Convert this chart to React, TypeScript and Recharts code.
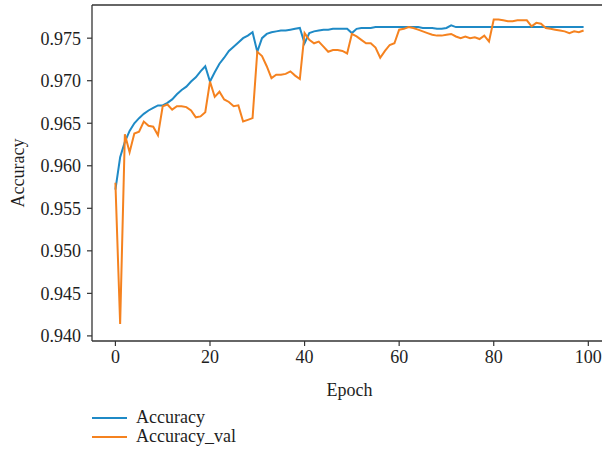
import React from 'react';
import { LineChart, Line, XAxis, YAxis, Label, ReferenceLine } from 'recharts';

// epochs 0..99
const epochs: number[] = Array.from({ length: 100 }, (_, i) => i);

const accuracy: number[] = [
  0.9572, 0.9610, 0.9628, 0.9641, 0.9650, 0.9656, 0.9661, 0.9665, 0.9668, 0.9671,
  0.9671, 0.9674, 0.9678, 0.9684, 0.9689, 0.9693, 0.9699, 0.9704, 0.9711, 0.9717,
  0.9699, 0.9710, 0.9720, 0.9727, 0.9735, 0.9740, 0.9745, 0.9750, 0.9753, 0.9757,
  0.9734, 0.9750, 0.9755, 0.9757, 0.9758, 0.9759, 0.9759, 0.9760, 0.9761, 0.9762,
  0.9744, 0.9756, 0.9758, 0.9759, 0.9760, 0.9760, 0.9761, 0.9761, 0.9761, 0.9761,
  0.9756, 0.9761, 0.9762, 0.9762, 0.9762, 0.9763, 0.9763, 0.9763, 0.9763, 0.9763,
  0.9763, 0.9763, 0.9763, 0.9763, 0.9763, 0.9762, 0.9762, 0.9762, 0.9761, 0.9761,
  0.9762, 0.9765, 0.9763, 0.9763, 0.9763, 0.9763, 0.9763, 0.9763, 0.9763, 0.9763,
  0.9763, 0.9763, 0.9763, 0.9763, 0.9763, 0.9763, 0.9763, 0.9763, 0.9763, 0.9763,
  0.9763, 0.9763, 0.9763, 0.9763, 0.9763, 0.9763, 0.9763, 0.9763, 0.9763, 0.9763,
];

const accuracyVal: number[] = [
  0.9580, 0.9414, 0.9637, 0.9616, 0.9638, 0.9640, 0.9652, 0.9647, 0.9646, 0.9636,
  0.9670, 0.9672, 0.9666, 0.9670, 0.9670, 0.9669, 0.9665, 0.9657, 0.9658, 0.9663,
  0.9699, 0.9681, 0.9687, 0.9678, 0.9675, 0.9670, 0.9671, 0.9652, 0.9654, 0.9656,
  0.9734, 0.9729, 0.9717, 0.9703, 0.9707, 0.9707, 0.9708, 0.9711, 0.9706, 0.9702,
  0.9756, 0.9748, 0.9744, 0.9746, 0.9740, 0.9734, 0.9736, 0.9736, 0.9735, 0.9732,
  0.9755, 0.9752, 0.9748, 0.9744, 0.9744, 0.9739, 0.9727, 0.9735, 0.9742, 0.9744,
  0.9760, 0.9761, 0.9763, 0.9762, 0.9760, 0.9758, 0.9756, 0.9754, 0.9753, 0.9753,
  0.9754, 0.9755, 0.9752, 0.9750, 0.9752, 0.9750, 0.9751, 0.9749, 0.9753, 0.9746,
  0.9772, 0.9772, 0.9771, 0.9770, 0.9770, 0.9771, 0.9771, 0.9771, 0.9764, 0.9768,
  0.9767, 0.9762, 0.9761, 0.9760, 0.9759, 0.9758, 0.9756, 0.9758, 0.9757, 0.9759,
];

const xTicks = [0, 20, 40, 60, 80, 100];
const yTicks = [0.94, 0.945, 0.95, 0.955, 0.96, 0.965, 0.97, 0.975];
const xDomain: [number, number] = [-4.95, 103.95];
const yDomain: [number, number] = [0.9394, 0.9789];

const series = [
  { key: 'acc', name: 'Accuracy', color: '#1f8ac6' },
  { key: 'val', name: 'Accuracy_val', color: '#f5821f' },
];

const data = epochs.map((e, i) => ({ epoch: e, acc: accuracy[i], val: accuracyVal[i] }));

const FONT = '"Liberation Serif", "DejaVu Serif", serif';
const AXIS = '#333333';
const TEXT = '#1e1e1e';
const FS = 18;

const App = () => {
  return (
    <div
      style={{
        position: 'absolute',
        left: 0,
        top: 0,
        width: 602,
        height: 455,
        overflow: 'hidden',
        background: '#fff',
        fontFamily: FONT,
      }}
    >
      <LineChart
        width={612}
        height={455}
        data={data}
        margin={{ top: 5, right: 5, left: 0, bottom: 16 }}
        style={{ fontFamily: FONT }}
      >
        <XAxis
          dataKey="epoch"
          type="number"
          domain={xDomain}
          ticks={xTicks}
          allowDataOverflow
          height={98}
          tickSize={5}
          tickMargin={4}
          tick={{ fill: TEXT, fontSize: FS }}
          axisLine={{ stroke: AXIS, strokeWidth: 1.3 }}
          tickLine={{ stroke: AXIS, strokeWidth: 1.2 }}
        >
          <Label value="Epoch" position="center" style={{ fill: TEXT, fontSize: FS }} />
        </XAxis>
        <YAxis
          type="number"
          domain={yDomain}
          ticks={yTicks}
          allowDataOverflow
          width={92}
          tickSize={5}
          tickMargin={6}
          tickFormatter={(v: number) => v.toFixed(3)}
          tick={{ fill: TEXT, fontSize: FS }}
          axisLine={{ stroke: AXIS, strokeWidth: 1.3 }}
          tickLine={{ stroke: AXIS, strokeWidth: 1.2 }}
        >
          <Label value="Accuracy" angle={-90} position="center" dx={-28} style={{ fill: TEXT, fontSize: FS }} />
        </YAxis>
        {/* top and right spines */}
        <ReferenceLine y={yDomain[1]} stroke={AXIS} strokeWidth={1.3} />
        <ReferenceLine x={xDomain[1]} stroke={AXIS} strokeWidth={1.3} />
        {series.map((s) => (
          <Line
            key={s.key}
            type="linear"
            dataKey={s.key}
            name={s.name}
            stroke={s.color}
            strokeWidth={2}
            dot={false}
            isAnimationActive={false}
          />
        ))}
      </LineChart>
      <div style={{ position: 'absolute', left: 92, top: 408 }}>
        {series.map((s) => (
          <div key={s.key} style={{ display: 'flex', alignItems: 'center', height: 19 }}>
            <div style={{ width: 35, height: 2, background: s.color }} />
            <span style={{ marginLeft: 9, fontSize: FS, color: TEXT, lineHeight: '19px' }}>{s.name}</span>
          </div>
        ))}
      </div>
    </div>
  );
};

export default App;
